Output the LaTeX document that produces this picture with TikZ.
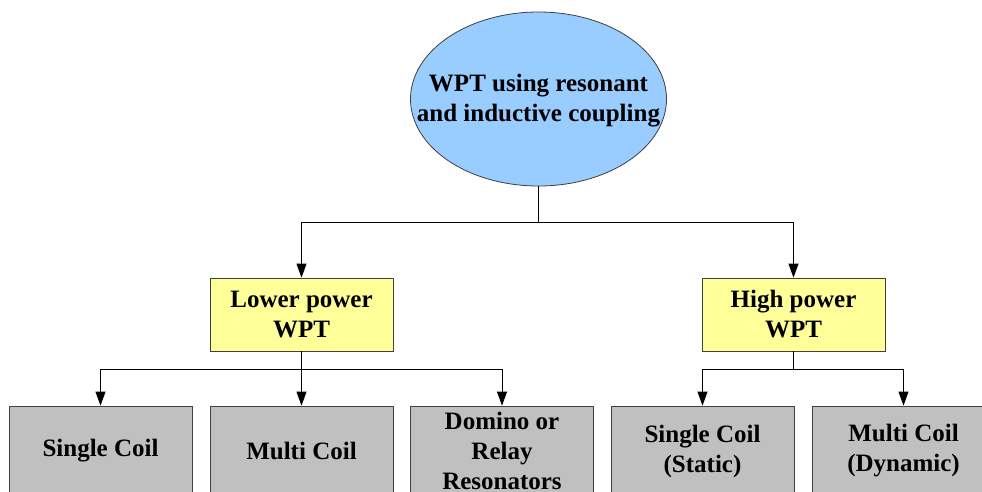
\documentclass[tikz,border=0pt]{standalone}
\usepackage{fontspec}
\setmainfont{Liberation Serif}
\usetikzlibrary{arrows.meta,shapes.geometric}
\definecolor{rootblue}{RGB}{153,204,255}
\definecolor{midyellow}{RGB}{255,255,153}
\definecolor{leafgray}{RGB}{192,192,192}
\definecolor{edgegray}{RGB}{64,64,64}
\begin{document}
\begin{tikzpicture}[x=1pt,y=-1pt,
  txt/.style={font=\fontsize{25}{30}\selectfont\bfseries, align=center, text=black},
  rootnode/.style={ellipse, draw=edgegray, line width=0.8pt, fill=rootblue, minimum width=256pt, minimum height=174pt, inner sep=0pt},
  midbox/.style={txt, rectangle, draw=edgegray, line width=0.8pt, fill=midyellow, minimum width=183pt, minimum height=73pt, inner sep=0pt},
  leafbox/.style={txt, rectangle, draw=edgegray, line width=0.8pt, fill=leafgray, minimum width=183pt, minimum height=90pt, inner sep=0pt},
  conn/.style={draw=black, line width=0.8pt},
  arr/.style={conn, -{Triangle[length=14pt,width=10pt]}}]
\useasboundingbox (0,0) rectangle (982,491);
\clip (0,0) rectangle (982,491);
\fill[white] (0,0) rectangle (982,491);
\node[rootnode] (root) at (538.5,99) {};
\node[txt, inner sep=0pt] (roottext) at (538.5,101) {WPT using resonant\\and inductive coupling};
\node[midbox] (low) at (301.5,314.5) {Lower power\\WPT};
\node[midbox] (high) at (793.5,314.5) {High power\\WPT};
\node[leafbox] (b1) at (100.5,451) {\raisebox{-2pt}{Single Coil}};
\node[leafbox] (b2) at (301.5,451) {\raisebox{-2pt}{Multi Coil}};
\node[leafbox] (b3) at (502,451) {Domino or\\Relay\\Resonators};
\node[leafbox] (b4) at (702.5,451) {Single Coil\\(Static)};
\node[leafbox] (b5) at (903.5,451) {Multi Coil\\(Dynamic)};
\coordinate (j1) at (538.5,222);
\coordinate (j2) at (301.5,369);
\coordinate (j3) at (793.5,369);
\draw[conn] (root.south) -- (j1);
\draw[arr] (j1) -| (low.north);
\draw[arr] (j1) -| (high.north);
\draw[conn] (low.south) -- (j2);
\draw[arr] (j2) -| (b1.north);
\draw[arr] (j2) -- (b2.north);
\draw[arr] (j2) -| (b3.north);
\draw[conn] (high.south) -- (j3);
\draw[arr] (j3) -| (b4.north);
\draw[arr] (j3) -| (b5.north);
\end{tikzpicture}
\end{document}
